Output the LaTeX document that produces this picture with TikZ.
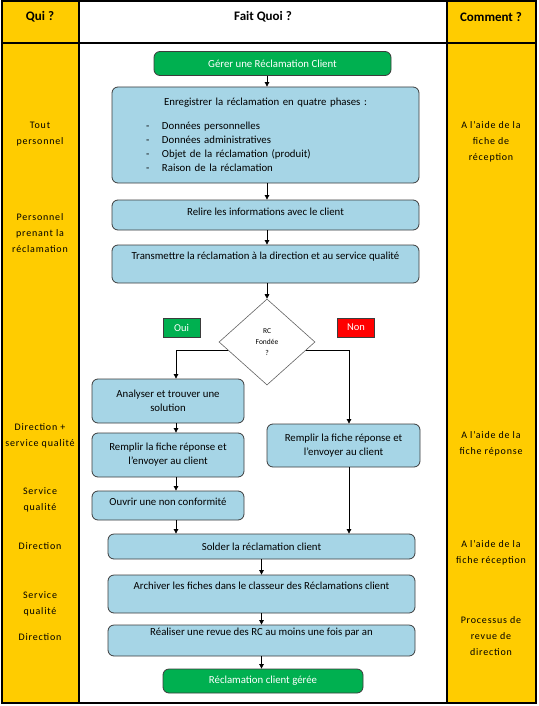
\documentclass[tikz,border=0pt]{standalone}
\usepackage{fontspec}
\setmainfont{Carlito}
\newfontfamily\sidefont{Carlito}[LetterSpace=8]
\usepackage{tikz}
\usetikzlibrary{shapes.geometric,arrows.meta,positioning,calc}
\usepackage{xcolor}
\definecolor{cBlue}{RGB}{166,213,230}
\definecolor{cGreen}{RGB}{0,176,80}
\definecolor{cRed}{RGB}{255,0,0}
\definecolor{cYellow}{RGB}{255,204,0}
\definecolor{cLine}{RGB}{60,60,60}
\tikzset{
  basebox/.style={rectangle,rounded corners=6pt,draw=cLine,line width=0.8pt,
                  align=center,font=\fontsize{10.8}{14}\selectfont,inner sep=2pt},
  bluenode/.style={basebox,fill=cBlue,minimum width=307pt,minimum height=30pt},
  sidenode/.style={basebox,fill=cBlue,minimum width=152pt,minimum height=44pt},
  greennode/.style={basebox,fill=cGreen,text=white,minimum height=24pt},
  tagnode/.style={rectangle,draw=cLine,line width=0.6pt,text=white,
                  minimum width=37pt,minimum height=19pt,inner sep=0pt,
                  font=\fontsize{10.5}{12}\selectfont},
  decnode/.style={diamond,draw=cLine!80,fill=white,line width=0.6pt,
                  minimum width=96pt,minimum height=86pt,inner sep=0pt,
                  align=center,font=\fontsize{7.5}{11}\selectfont},
  headtxt/.style={font=\fontsize{13}{15}\selectfont\bfseries},
  coltxt/.style={align=center,font=\sidefont\fontsize{10}{16}\selectfont},
  arr/.style={-{Triangle[length=4.5pt,width=4.5pt]},line width=0.7pt,color=black}
}
\begin{document}
\begin{tikzpicture}[x=1pt,y=-1pt]
  \useasboundingbox (0,0) rectangle (538,706);
  % table
  \fill[cYellow] (2,1) rectangle (79,703);
  \fill[cYellow] (447,1) rectangle (536,703);
  \draw[line width=1.2pt] (2,1) rectangle (536,703);
  \draw[line width=1.2pt] (79,1) -- (79,703);
  \draw[line width=1.2pt] (447,1) -- (447,703);
  \draw[line width=1.2pt] (2,43) -- (536,43);
  \node[headtxt] (hqui) at (40,17) {Qui ?};
  \node[headtxt] (hfait) at (263,17) {Fait Quoi ?};
  \node[headtxt] (hcomm) at (491,17) {Comment ?};

  % who
  \node[coltxt] (w1) at (40,134) {Tout\\personnel};
  \node[coltxt] (w2) at (40,233) {Personnel\\prenant la\\réclamation};
  \node[coltxt] (w3) at (40,436) {Direction +\\service qualité};
  \node[coltxt] (w4) at (40,500) {Service\\qualité};
  \node[coltxt] (w5) at (40,546) {Direction};
  \node[coltxt] (w6) at (40,604) {Service\\qualité};
  \node[coltxt] (w7) at (40,637) {Direction};

  % how
  \node[coltxt] (c1) at (491,142) {A l’aide de la\\fiche de\\réception};
  \node[coltxt] (c2) at (491,444) {A l’aide de la\\fiche réponse};
  \node[coltxt] (c3) at (491,553) {A l’aide de la\\fiche réception};
  \node[coltxt] (c4) at (491,636) {Processus de\\revue de\\direction};

  % flow
  \node[greennode,minimum width=237pt] (start) at (272.5,63.5) {Gérer une Réclamation Client};
  \node[bluenode,minimum height=96pt,text width=287pt,align=left] (reg) at (265.5,135) {%
    {\centering Enregistrer la réclamation en quatre phases :\par}\vspace{10pt}
    \hspace*{24pt}\makebox[16pt][l]{-}Données personnelles\\
    \hspace*{24pt}\makebox[16pt][l]{-}Données administratives\\
    \hspace*{24pt}\makebox[16pt][l]{-}Objet de la réclamation (produit)\\
    \hspace*{24pt}\makebox[16pt][l]{-}Raison de la réclamation};
  \node[bluenode,text depth=7pt] (rel) at (265.5,215) {Relire les informations avec le client};
  \node[bluenode,minimum height=38pt,text depth=17pt] (trans) at (265.5,264) {Transmettre la réclamation à la direction et au service qualité};
  \node[decnode] (dec) at (267,342) {RC\\Fondée\\?};
  \node[tagnode,fill=cGreen] (oui) at (181.5,327.5) {Oui};
  \node[tagnode,fill=cRed] (non) at (356,327.5) {Non};

  \node[sidenode] (ana) at (168,401) {Analyser et trouver une\\solution};
  \node[sidenode] (rem1) at (168,455) {Remplir la fiche réponse et\\l’envoyer au client};
  \node[sidenode,minimum height=29pt,text depth=7pt] (ouv) at (168,505.5) {Ouvrir une non conformité};
  \node[sidenode,minimum width=153pt,minimum height=43pt] (rem2) at (343.5,445.5) {Remplir la fiche réponse et\\l’envoyer au client};

  \node[bluenode,minimum height=25pt] (sold) at (261.5,546.5) {Solder la réclamation client};
  \node[bluenode,minimum height=38pt,text depth=16pt] (arch) at (261.5,594) {Archiver les fiches dans le classeur des Réclamations client};
  \node[bluenode,minimum height=31pt,text depth=17pt] (real) at (261.5,640.5) {Réaliser une revue des RC au moins une fois par an};
  \node[greennode,minimum width=200pt] (fin) at (263,681) {Réclamation client gérée};

  \coordinate (lx) at (176,0);
  \coordinate (rx) at (349,0);
  \coordinate (dl) at ($(dec.west)!0.2!(dec.south)$);
  \coordinate (dr) at ($(dec.east)!0.2!(dec.south)$);

  \draw[arr] (start.south -| dec) -- (reg.north -| dec);
  \draw[arr] (reg.south -| dec) -- (rel.north -| dec);
  \draw[arr] (rel.south -| dec) -- (trans.north -| dec);
  \draw[arr] (trans.south -| dec) -- (dec.north);
  \draw[arr] (dl) -| (lx |- ana.north);
  \draw[arr] (dr) -| (rx |- rem2.north);
  \draw[arr] (ana.south -| lx) -- (lx |- rem1.north);
  \draw[arr] (rem1.south -| lx) -- (lx |- ouv.north);
  \draw[arr] (ouv.south -| lx) -- (lx |- sold.north);
  \draw[arr] (rem2.south -| rx) -- (rx |- sold.north);
  \draw[arr] (sold.south) -- (arch.north);
  \draw[arr] (arch.south) -- (real.north);
  \draw[arr] (real.south) -- (real.south |- fin.north);
\end{tikzpicture}
\end{document}
